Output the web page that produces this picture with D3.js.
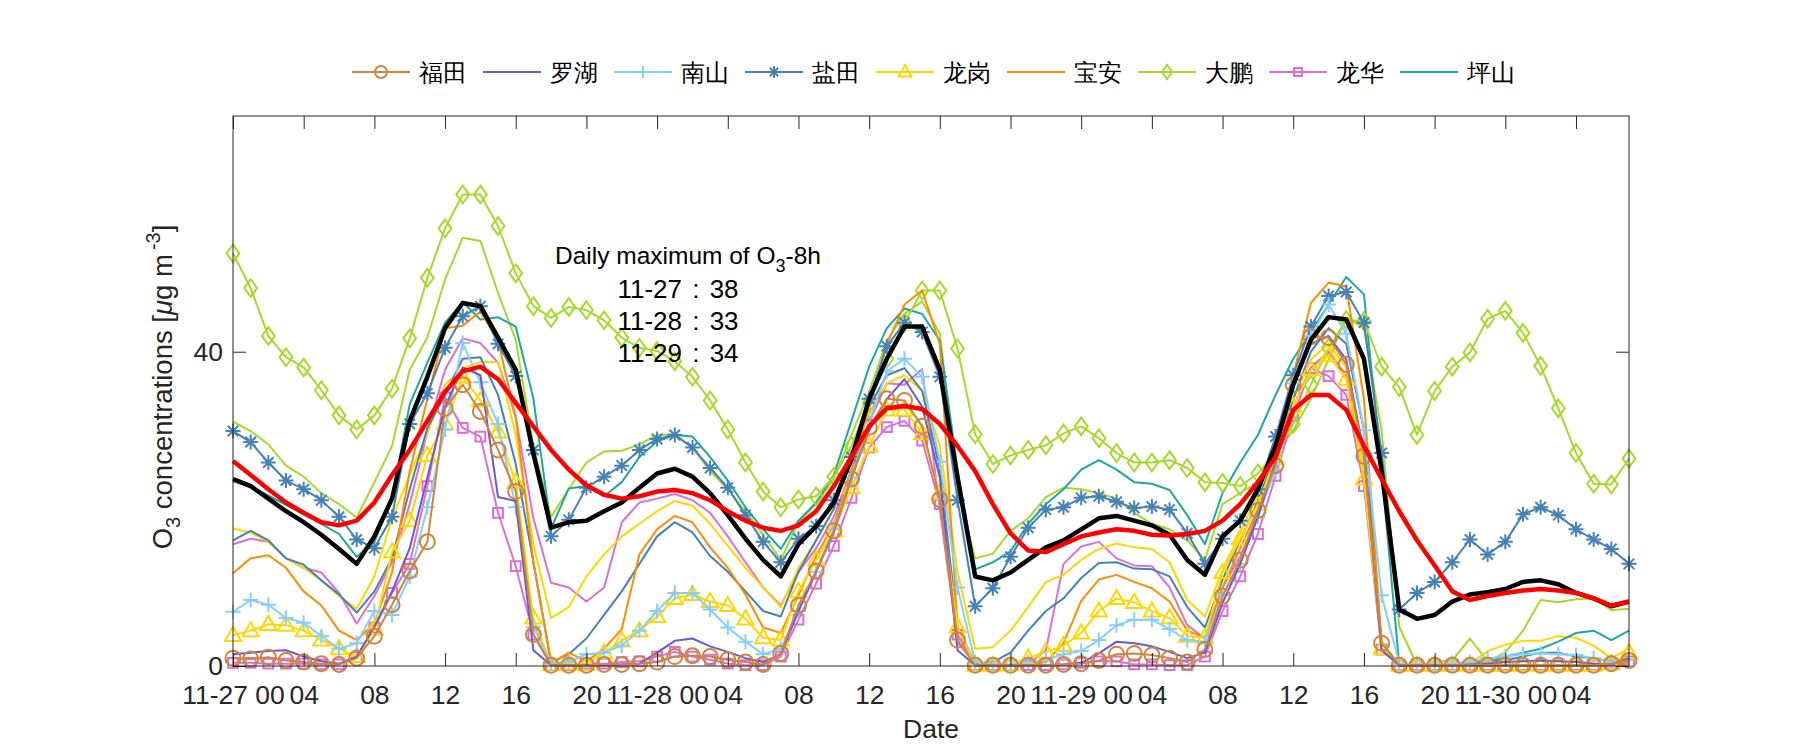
<!DOCTYPE html>
<html>
<head>
<meta charset="UTF-8">
<script src="https://d3js.org/d3.v7.min.js"></script>
<style>
body{margin:0;background:#fff;}
svg text{font-family:"Liberation Sans",Arial,sans-serif;}
.tick text{fill:#262626;font-size:26.5px;}
.tick line{stroke:#262626;stroke-width:1;}
</style>
</head>
<body>
<svg width="1800" height="750"></svg>
<script>
// hours since 11-27 00:00, one value per hour
const hours = d3.range(0, 80);
const tickHours = d3.range(0, 80, 4);
const tickLabels = ["11-27 00","04","08","12","16","20","11-28 00","04","08","12","16","20",
                    "11-29 00","04","08","12","16","20","11-30 00","04"];
const yTicks = [0, 40];
const stationNames = ["福田","罗湖","南山","盐田","龙岗","宝安","大鹏","龙华","坪山"];
const dailyMax = [["11-27", 38], ["11-28", 33], ["11-29", 34]];

const futian = [1.0,0.9,1.1,0.7,0.5,0.3,0.2,1.0,3.8,7.8, 12.1,15.8,32.8,35.8,32.4,27.5,22.2,4.0,0.1,0.1,
  0.1,0.2,0.2,0.3,0.5,1.2,1.3,1.2,0.8,0.5, 0.2,1.6,7.7,12.1,17.2,23.8,30.4,34.0,33.8,30.5,
  21.2,3.3,0.1,0.1,0.1,0.1,0.1,0.2,0.3,0.7, 1.5,1.6,1.4,1.0,0.5,2.1,8.9,13.5,19.8,25.5,
  35.8,41.9,41.8,38.4,26.7,2.9,0.1,0.1,0.1,0.1, 0.1,0.1,0.1,0.1,0.1,0.1,0.1,0.1,0.3,0.7];
const luohu = [1.5,1.7,1.9,2.0,1.2,0.6,0.3,1.2,5.0,9.5, 15.0,24.0,33.0,38.0,37.0,21.5,21.0,2.0,0.1,0.1,
  0.1,0.1,0.2,0.3,1.7,3.2,3.5,2.5,1.8,1.0, 0.5,1.5,7.0,12.0,17.0,24.0,30.0,34.0,36.5,33.0,
  24.0,2.0,0.1,0.1,0.1,0.1,0.1,0.2,0.4,1.6, 3.1,2.9,2.5,1.8,1.0,1.7,8.0,13.0,19.0,26.0,
  36.0,41.0,42.0,39.0,27.0,2.0,0.1,0.1,0.1,0.1, 0.2,0.3,0.5,0.6,0.7,0.6,0.5,0.3,0.2,1.0];
const nanshan = [6.9,8.4,7.8,6.1,5.5,3.8,2.2,2.9,7.0,6.5, 11.4,20.2,30.1,41.1,36.1,30.8,20.2,5.0,0.3,0.5,
  1.5,1.7,2.6,4.5,7.0,9.3,9.3,7.2,4.9,3.1, 1.5,2.2,7.0,12.0,17.5,24.0,31.0,37.5,39.1,36.8,
  26.0,10.0,0.5,0.2,0.2,0.5,0.8,1.5,1.9,3.3, 5.2,5.9,5.9,4.7,3.3,3.1,9.0,13.0,19.0,25.0,
  36.0,42.0,46.0,42.3,30.0,9.0,0.3,0.2,0.2,0.3, 0.5,1.0,1.2,1.5,1.6,1.5,1.4,1.0,0.5,0.8];
const yantian = [29.9,28.5,25.9,23.6,22.5,21.1,19.0,16.1,15.0,19.0, 30.8,34.7,40.5,44.5,45.8,41.0,36.9,27.5,16.5,18.6,
  22.7,24.1,25.5,27.5,28.9,29.4,27.8,25.2,22.7,19.2, 15.8,13.2,16.2,17.8,21.1,26.6,34.0,40.7,43.7,42.5,
  36.8,21.1,7.6,9.9,13.9,17.6,19.9,20.2,21.4,21.6, 20.9,20.1,20.3,19.9,16.9,13.0,16.2,18.5,22.5,29.2,
  37.0,43.2,47.1,47.6,43.7,27.1,7.2,9.3,10.7,13.2, 16.1,14.2,15.8,19.3,20.2,19.2,17.4,16.1,14.9,13.0];
const longgang = [3.9,4.5,5.3,5.2,4.5,3.3,2.2,1.2,4.7,14.5, 18.5,26.8,30.8,36.8,33.8,29.8,23.4,6.1,0.2,0.3,
  0.2,1.7,3.2,4.5,6.3,8.6,9.1,8.2,7.7,6.0, 3.6,3.3,9.5,13.5,17.2,22.7,28.0,32.6,32.6,29.6,
  22.0,5.0,0.1,0.1,0.2,1.0,1.8,2.6,4.2,7.0, 8.6,8.1,7.0,6.1,3.8,3.6,11.9,16.2,20.6,26.4,
  33.0,37.7,39.5,36.5,23.8,2.2,0.1,0.1,0.1,0.1, 0.1,0.1,0.1,0.1,0.1,0.1,0.1,0.1,0.3,1.7];
const baoan = [11.8,13.7,14.1,12.5,9.5,7.7,4.5,3.3,5.4,11.9, 24.8,34.0,43.0,43.3,45.1,41.4,31.7,13.2,0.3,1.7,
  0.6,2.2,4.7,14.2,17.4,19.1,18.3,15.1,12.5,9.1, 4.9,4.2,9.0,14.0,18.0,25.0,33.0,41.0,46.0,47.8,
  41.0,5.0,0.1,0.1,0.1,0.2,0.5,2.9,8.3,11.0, 11.6,10.7,9.9,8.2,4.5,3.6,10.0,15.0,20.0,27.0,
  37.0,46.2,48.8,48.3,34.0,3.0,0.1,0.1,0.1,0.1, 0.1,0.1,0.1,0.1,0.1,0.1,0.1,0.1,0.2,0.5];
const dapeng = [52.5,48.1,42.0,39.3,38.0,35.1,31.9,30.1,31.9,35.3, 41.7,49.4,55.7,60.0,60.0,56.0,50.0,45.8,44.3,45.7,
  45.3,44.0,41.8,40.5,40.1,38.8,36.8,33.8,30.1,25.9, 22.2,20.2,21.2,21.6,24.1,28.0,33.5,39.1,43.7,47.8,
  47.8,40.4,29.5,25.7,26.8,27.5,28.1,29.6,30.5,29.0, 27.1,25.9,25.9,26.2,25.2,23.4,23.3,22.9,24.5,27.0,
  30.8,35.8,40.5,44.0,43.9,38.1,35.5,29.4,35.0,38.1, 39.9,44.2,45.2,42.4,38.2,32.8,27.1,23.2,23.1,26.4];
const longhua = [0.4,0.4,0.3,0.3,0.3,0.2,0.2,1.1,4.9,9.3, 13.0,22.9,34.2,30.3,29.2,19.5,12.7,4.0,0.1,0.1,
  0.3,0.3,0.5,0.6,1.2,1.8,1.2,0.8,0.3,0.1, 0.1,1.2,5.9,10.5,15.3,21.4,27.8,30.4,31.2,28.7,
  20.6,4.0,0.1,0.1,0.1,0.1,0.1,0.2,0.4,0.6, 0.6,0.2,0.2,0.1,0.1,1.2,7.0,11.4,16.8,24.2,
  31.8,37.9,36.9,34.5,22.9,2.1,0.1,0.1,0.1,0.1, 0.1,0.1,0.1,0.1,0.1,0.1,0.1,0.1,0.3,0.6];
const pingshan = [23.5,22.8,21.7,20.5,19.3,18.1,16.8,13.9,15.8,21.3, 33.3,38.6,43.7,46.3,44.1,44.4,43.2,34.0,17.5,22.6,
  22.9,21.6,23.4,26.6,28.6,29.4,29.2,26.6,23.6,20.2, 17.4,14.9,18.5,20.8,24.3,31.2,38.1,43.0,45.5,44.8,
  41.4,25.0,12.3,13.2,14.6,18.1,20.6,22.5,25.0,26.2, 25.0,23.4,23.2,22.4,19.2,15.5,22.0,25.9,29.4,34.5,
  39.1,42.5,46.0,49.5,47.3,24.8,0.1,0.1,0.1,0.1, 0.2,0.5,1.2,1.7,2.2,3.1,4.2,4.5,3.3,4.5];
// second stations of the same districts (not in the legend)
const yantian2 = [16.0,17.2,16.0,13.7,12.9,10.9,9.1,6.8,9.5,13.7, 22.5,30.3,34.5,39.1,39.3,34.5,25.7,13.2,0.5,1.5,
  3.5,6.5,9.5,13.0,16.5,18.3,17.0,14.0,12.0,9.5, 7.0,6.3,12.0,16.0,20.0,27.0,33.0,37.0,37.9,35.0,
  25.0,5.0,0.3,0.5,1.7,4.5,7.0,8.6,11.2,13.1, 13.2,12.4,12.3,11.4,7.5,4.9,11.0,16.0,21.0,27.0,
  34.0,40.0,43.0,41.0,30.0,3.0,0.1,0.1,0.1,0.2, 0.5,0.6,0.7,1.2,1.7,1.7,1.2,1.0,0.6,1.2];
const longgang2 = [17.5,17.0,15.8,13.7,12.5,10.9,8.9,7.3,11.4,18.8, 24.3,29.6,35.8,37.9,38.7,38.7,29.4,15.5,6.1,7.5,
  11.4,14.2,16.5,18.1,19.7,21.0,20.4,18.1,15.3,12.5, 10.0,7.5,12.5,16.0,20.0,27.0,32.0,36.0,37.0,35.0,
  28.0,12.0,2.2,2.4,4.5,7.5,10.7,11.6,13.5,14.9, 15.6,15.1,14.9,13.2,8.4,6.3,12.3,16.9,22.0,28.0,
  34.0,39.0,41.0,38.0,25.0,3.0,0.1,0.1,0.1,0.1, 0.3,1.9,2.7,3.2,3.2,3.8,3.6,2.6,1.0,2.2];
const longhua2 = [15.5,16.2,15.8,13.7,12.5,11.9,9.3,5.4,8.9,13.2, 20.6,29.8,37.7,41.7,41.1,38.6,31.7,18.8,10.6,10.0,
  8.2,10.0,18.3,20.8,21.3,21.9,21.1,19.5,16.5,13.2, 10.0,7.7,11.9,15.0,19.0,25.0,31.0,36.0,35.8,37.8,
  20.0,3.0,0.3,0.1,0.1,0.2,2.0,13.0,15.2,15.8, 13.7,12.8,12.7,10.0,5.2,3.5,10.0,14.0,19.0,26.0,
  33.0,38.0,40.0,37.0,25.0,2.0,0.1,0.1,0.1,0.1, 0.1,0.1,0.1,0.1,0.1,0.1,0.1,0.1,0.1,0.3];
const dapeng2 = [31.1,29.9,28.2,25.5,24.1,22.0,20.6,18.9,23.4,28.0, 37.7,41.8,49.2,54.5,54.1,47.5,41.5,28.0,19.0,22.5,
  25.9,27.3,27.4,28.2,29.4,29.5,27.8,24.8,22.5,19.7, 16.7,13.5,18.3,20.6,23.8,29.4,34.9,41.4,44.8,46.4,
  42.3,22.5,13.7,14.3,17.2,18.8,21.5,22.7,22.5,22.0, 21.3,19.5,18.1,17.4,16.0,13.5,20.6,22.0,23.4,27.0,
  30.0,34.0,39.0,44.4,43.0,30.0,5.0,0.1,0.5,0.7, 3.5,0.6,1.7,4.5,8.4,8.1,8.5,8.6,7.1,7.3];
const cityMean = [23.8,22.9,21.3,19.7,18.3,16.7,14.9,13.0,16.5,21.3, 31.2,36.8,43.0,46.2,45.8,41.8,37.7,27.0,17.6,18.3,
  18.5,19.7,20.8,22.7,24.5,25.1,24.1,22.0,19.2,16.2, 13.5,11.4,15.5,17.8,20.8,26.4,34.0,39.1,43.2,43.2,
  37.7,24.0,11.4,10.9,11.9,13.5,15.1,16.0,17.4,18.8, 19.1,18.5,17.9,16.7,13.5,11.6,16.5,18.5,22.5,28.0,
  35.8,41.5,44.4,44.1,39.1,24.8,7.2,6.0,6.5,8.2, 9.1,9.4,9.8,10.7,10.9,10.4,9.3,8.6,7.6,8.2];
const mean8h = [26.1,24.3,22.5,20.8,19.5,18.3,17.9,18.5,20.8,24.3, 27.5,31.2,34.9,37.5,38.1,36.5,33.5,30.5,27.5,25.0,
  23.0,21.8,21.3,21.6,22.2,22.4,22.0,21.1,19.7,18.5, 17.6,17.2,17.9,19.7,22.9,26.6,30.5,32.8,33.1,32.7,
  30.8,28.0,24.8,20.6,16.9,14.7,14.5,15.5,16.5,17.0, 17.4,17.2,16.7,16.6,16.8,17.2,18.5,20.6,23.4,26.6,
  32.6,34.5,34.5,32.6,28.0,23.8,19.7,16.0,12.8,9.5, 8.4,8.9,9.3,9.6,9.8,9.6,9.3,8.6,7.7,8.2];

const series = [
  {name: stationNames[0], values: futian,   color: "#CD853F", marker: "circle"},
  {name: stationNames[1], values: luohu,    color: "#6A5ACD", marker: null},
  {name: stationNames[2], values: nanshan,  color: "#87CEFA", marker: "plus"},
  {name: stationNames[3], values: yantian,  color: "#4682B4", marker: "asterisk"},
  {name: stationNames[4], values: longgang, color: "#FFD700", marker: "triangle"},
  {name: stationNames[5], values: baoan,    color: "#FF8C00", marker: null},
  {name: stationNames[6], values: dapeng,   color: "#A6D92B", marker: "diamond"},
  {name: stationNames[7], values: longhua,  color: "#DA70D6", marker: "square"},
  {name: stationNames[8], values: pingshan, color: "#20A89E", marker: null},
  {name: null, values: yantian2,  color: "#4682B4", marker: null},
  {name: null, values: longgang2, color: "#FFD700", marker: null},
  {name: null, values: longhua2,  color: "#DA70D6", marker: null},
  {name: null, values: dapeng2,   color: "#A6D92B", marker: null}
];

const svg = d3.select("svg");
const L = 233, R = 1629, T = 116, B = 666;
const x = d3.scaleLinear().domain([0, 79]).range([L, R]);
const y = d3.scaleLinear().domain([0, 70]).range([B, T]);

function markerPath(type, s) {
  const k = 0.7 * s;
  switch (type) {
    case "circle": return `M${-s},0A${s},${s} 0 1,0 ${s},0A${s},${s} 0 1,0 ${-s},0Z`;
    case "plus": return `M${-s},0H${s}M0,${-s}V${s}`;
    case "asterisk": return `M${-s},0H${s}M0,${-s}V${s}M${-k},${-k}L${k},${k}M${-k},${k}L${k},${-k}`;
    case "triangle": return `M0,${-s}L${s*0.95},${s*0.65}L${-s*0.95},${s*0.65}Z`;
    case "diamond": return `M0,${-s*1.1}L${s*0.8},0L0,${s*1.1}L${-s*0.8},0Z`;
    case "square": return `M${-k},${-k}H${k}V${k}H${-k}Z`;
  }
  return "";
}
const markerSize = {circle: 7.5, plus: 7.5, asterisk: 7.5, triangle: 8.5, diamond: 8, square: 7};

const line = d3.line().x((d, i) => x(hours[i])).y(d => y(d));
const plot = svg.append("g");

// draw in reverse so that 福田 ends on top, as in the figure
series.slice().reverse().forEach(s => {
  const g = plot.append("g");
  g.append("path").attr("d", line(s.values))
    .attr("fill", "none").attr("stroke", s.color).attr("stroke-width", 2)
    .attr("stroke-linejoin", "round");
  if (s.marker) {
    g.selectAll("path.m").data(s.values).enter().append("path")
      .attr("class", "m")
      .attr("transform", (d, i) => `translate(${x(hours[i])},${y(d)})`)
      .attr("d", markerPath(s.marker, markerSize[s.marker]))
      .attr("fill", "none").attr("stroke", s.color).attr("stroke-width", 2);
  }
});

plot.append("path").attr("d", line(cityMean))
  .attr("fill", "none").attr("stroke", "#000").attr("stroke-width", 4.5).attr("stroke-linejoin", "round");
plot.append("path").attr("d", line(mean8h))
  .attr("fill", "none").attr("stroke", "#FF0000").attr("stroke-width", 4.5).attr("stroke-linejoin", "round");

// axes: ticks inward on all four sides
const tl = 13;
svg.append("g").attr("transform", `translate(0,${B})`)
  .call(d3.axisBottom(x).tickValues(tickHours).tickSize(-tl).tickPadding(19)
    .tickFormat((d, i) => tickLabels[i]))
  .call(g => g.select(".domain").remove());
svg.append("g").attr("transform", `translate(0,${T})`)
  .call(d3.axisTop(x).tickValues(tickHours).tickSize(-tl).tickFormat(""))
  .call(g => g.select(".domain").remove());
svg.append("g").attr("transform", `translate(${L},0)`)
  .call(d3.axisLeft(y).tickValues(yTicks).tickSize(-tl).tickPadding(10))
  .call(g => g.select(".domain").remove());
svg.append("g").attr("transform", `translate(${R},0)`)
  .call(d3.axisRight(y).tickValues(yTicks).tickSize(-tl).tickFormat(""))
  .call(g => g.select(".domain").remove());
svg.append("rect").attr("x", L).attr("y", T).attr("width", R - L).attr("height", B - T)
  .attr("fill", "none").attr("stroke", "#262626").attr("stroke-width", 1);

// axis labels
svg.append("text").attr("x", (L + R) / 2).attr("y", 738).attr("text-anchor", "middle")
  .attr("font-size", 26.5).attr("fill", "#262626").text("Date");

const yl = svg.append("text").attr("transform", `translate(172,${(T + B) / 2 - 4}) rotate(-90)`)
  .attr("text-anchor", "middle").attr("font-size", 27.5).attr("fill", "#262626");
yl.append("tspan").text("O");
yl.append("tspan").attr("font-size", 20).attr("dy", 8).text("3");
yl.append("tspan").attr("dy", -8).text(" concentrations [");
yl.append("tspan").attr("font-style", "italic").text("μ");
yl.append("tspan").text("g m");
yl.append("tspan").attr("font-size", 20).attr("dx", 4).attr("dy", -12).text("-3");
yl.append("tspan").attr("dy", 12).text("]");

// annotation
const ax = 688;
const t1 = svg.append("text").attr("x", ax).attr("y", 264).attr("text-anchor", "middle")
  .attr("font-size", 24.5).attr("fill", "#000");
t1.append("tspan").text("Daily maximum of O");
t1.append("tspan").attr("font-size", 18).attr("dy", 8).text("3");
t1.append("tspan").attr("dy", -8).text("-8h");
dailyMax.forEach((d, i) => {
  svg.append("text").attr("x", ax - 10).attr("y", 298 + i * 32).attr("text-anchor", "middle")
    .attr("font-size", 26).attr("word-spacing", 3).attr("fill", "#000").text(`${d[0]} : ${d[1]}`);
});

// legend across the top
const legend = svg.append("g");
const itemW = 131, lx0 = 352, ly = 72;
series.filter(s => s.name).forEach((s, i) => {
  const g = legend.append("g").attr("transform", `translate(${lx0 + i * itemW},${ly})`);
  g.append("line").attr("x1", 0).attr("x2", 58).attr("stroke", s.color).attr("stroke-width", 2);
  if (s.marker) {
    g.append("path").attr("transform", "translate(29,0)")
      .attr("d", markerPath(s.marker, markerSize[s.marker] * 0.8))
      .attr("fill", "none").attr("stroke", s.color).attr("stroke-width", 2);
  }
  g.append("text").attr("x", 67).attr("y", 0).attr("dy", "0.36em")
    .attr("font-family", "'Noto Sans CJK SC'").attr("font-size", 24).attr("fill", "#000")
    .text(s.name);
});
</script>
</body>
</html>
